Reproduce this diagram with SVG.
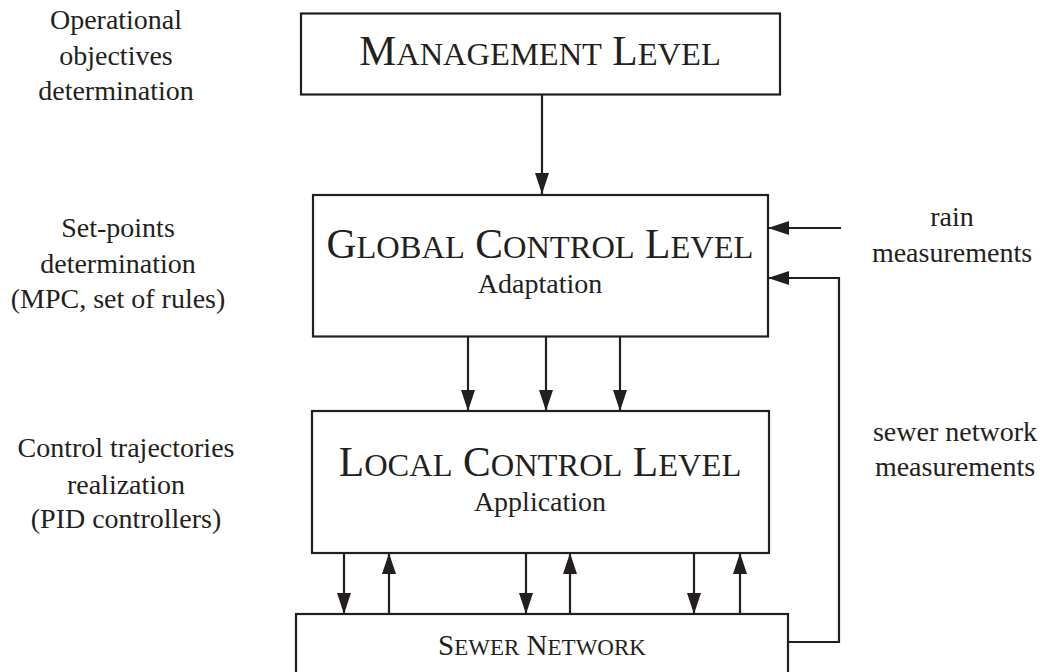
<svg xmlns="http://www.w3.org/2000/svg" width="1042" height="672" viewBox="0 0 1042 672">
<style>
.box{fill:#fff;stroke:#231f20;stroke-width:2.2}
.ln{fill:none;stroke:#231f20;stroke-width:2.2}
.t{font-family:"Liberation Serif","Times New Roman",serif;fill:#231f20;text-anchor:middle}
.side{font-size:28px}
.h{font-size:41.5px}
.s{font-size:32.5px}
.hs{font-size:29px}
.ss{font-size:23px}
.sub{font-size:28px}
</style>
<defs>
<marker id="ah" markerUnits="userSpaceOnUse" markerWidth="21" markerHeight="14" refX="21" refY="7" orient="auto">
<path d="M0,0 L21,7 L0,14 z" fill="#231f20"/>
</marker>
</defs>
<rect width="1042" height="672" fill="#fff"/>

<g id="labels-left">
<text class="t side" x="116" y="29">Operational</text>
<text class="t side" x="116" y="65">objectives</text>
<text class="t side" x="116" y="100">determination</text>
<text class="t side" x="118" y="237">Set-points</text>
<text class="t side" x="118" y="273">determination</text>
<text class="t side" x="118" y="308">(MPC, set of rules)</text>
<text class="t side" x="126" y="457">Control trajectories</text>
<text class="t side" x="126" y="494">realization</text>
<text class="t side" x="126" y="528">(PID controllers)</text>
</g>

<g id="labels-right">
<text class="t side" x="952" y="226">rain</text>
<text class="t side" x="952" y="262">measurements</text>
<text class="t side" x="955" y="441">sewer network</text>
<text class="t side" x="955" y="476">measurements</text>
</g>

<g id="management">
<rect class="box" x="301" y="13.5" width="479" height="81"/>
<text class="t h" x="540" y="65">M<tspan class="s">ANAGEMENT</tspan> L<tspan class="s">EVEL</tspan></text>
</g>

<g id="global">
<rect class="box" x="313" y="195" width="455" height="141.5"/>
<text class="t h" x="540" y="258">G<tspan class="s">LOBAL</tspan> C<tspan class="s">ONTROL</tspan> L<tspan class="s">EVEL</tspan></text>
<text class="t sub" x="540" y="293">Adaptation</text>
</g>

<g id="local">
<rect class="box" x="312" y="411" width="457" height="142"/>
<text class="t h" x="540" y="476">L<tspan class="s">OCAL</tspan> C<tspan class="s">ONTROL</tspan> L<tspan class="s">EVEL</tspan></text>
<text class="t sub" x="540" y="511">Application</text>
</g>

<g id="sewer">
<rect class="box" x="296" y="614" width="492" height="70"/>
<text class="t hs" x="542" y="655">S<tspan class="ss">EWER</tspan> N<tspan class="ss">ETWORK</tspan></text>
</g>

<g id="connectors">
<line class="ln" x1="542" y1="94.5" x2="542" y2="194" marker-end="url(#ah)"/>
<line class="ln" x1="468" y1="336.5" x2="468" y2="411" marker-end="url(#ah)"/>
<line class="ln" x1="546" y1="336.5" x2="546" y2="411" marker-end="url(#ah)"/>
<line class="ln" x1="620" y1="336.5" x2="620" y2="411" marker-end="url(#ah)"/>
<line class="ln" x1="344" y1="553" x2="344" y2="614" marker-end="url(#ah)"/>
<line class="ln" x1="389" y1="614" x2="389" y2="553" marker-end="url(#ah)"/>
<line class="ln" x1="526" y1="553" x2="526" y2="614" marker-end="url(#ah)"/>
<line class="ln" x1="570" y1="614" x2="570" y2="553" marker-end="url(#ah)"/>
<line class="ln" x1="694" y1="553" x2="694" y2="614" marker-end="url(#ah)"/>
<line class="ln" x1="740" y1="614" x2="740" y2="553" marker-end="url(#ah)"/>
<line class="ln" x1="841" y1="228" x2="768" y2="228" marker-end="url(#ah)"/>
<polyline class="ln" points="788,642 839,642 839,278 768,278" marker-end="url(#ah)"/>
</g>
</svg>
